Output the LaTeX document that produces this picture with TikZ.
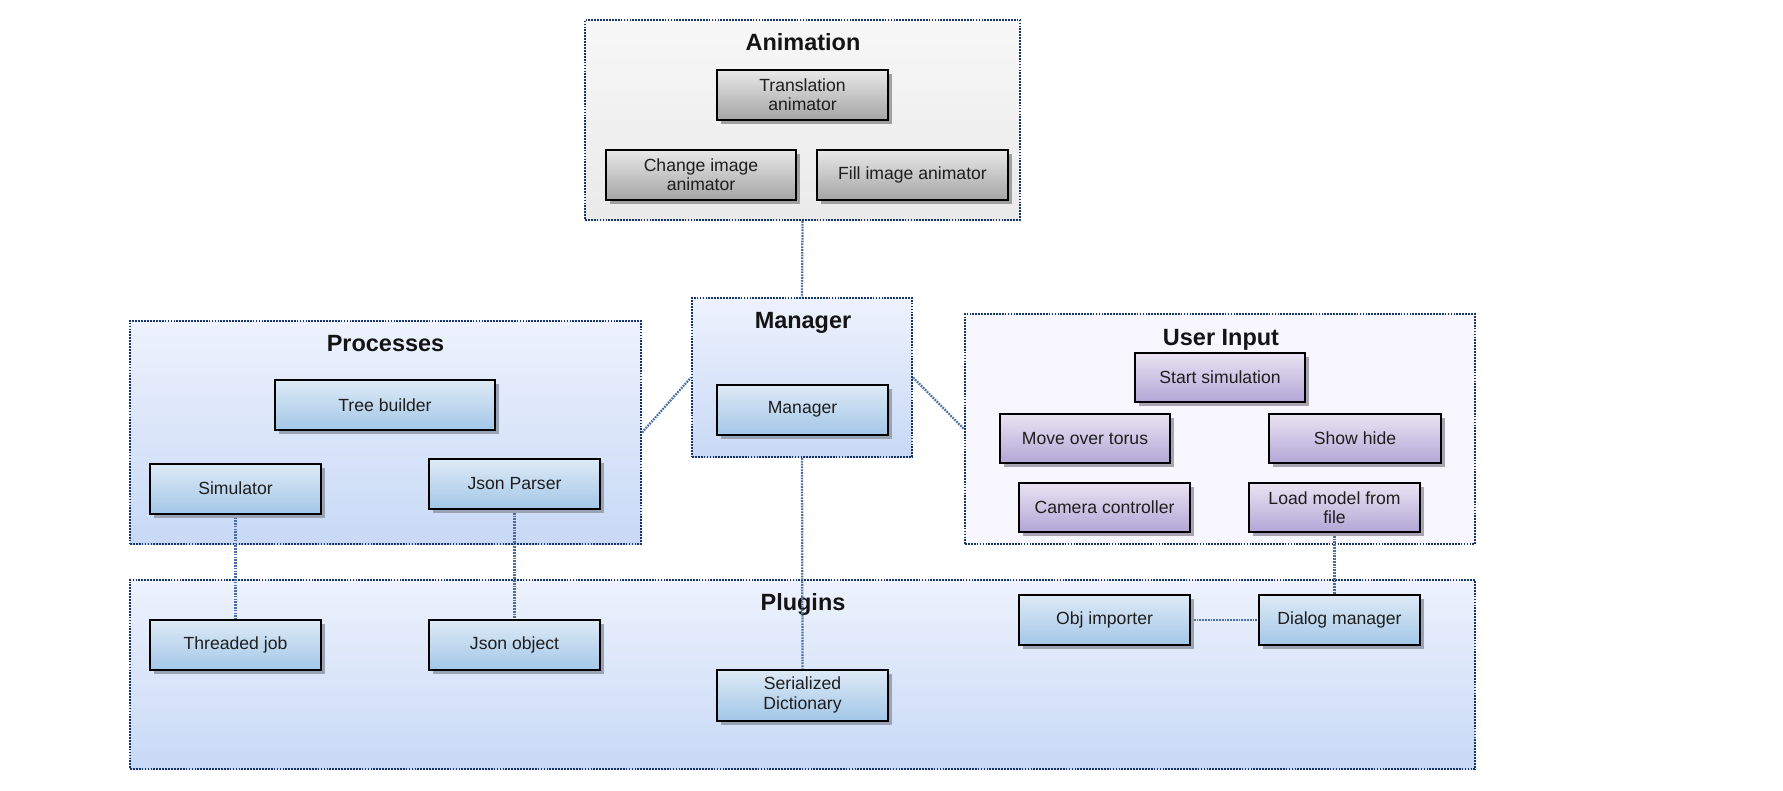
\documentclass[tikz,border=0pt]{standalone}
\usepackage{fontspec}
\setmainfont{Liberation Sans}
\usetikzlibrary{shadows}
\pgfdeclarelayer{bg}
\pgfdeclarelayer{conn}
\pgfsetlayers{bg,conn,main}
\definecolor{greyTop}{HTML}{E8E8E8}
\definecolor{greyBot}{HTML}{A4A4A4}
\definecolor{blueTop}{HTML}{DEEAF6}
\definecolor{blueBot}{HTML}{A3C7E8}
\definecolor{purpTop}{HTML}{E9E4F3}
\definecolor{purpBot}{HTML}{B2A6D6}
\definecolor{animTop}{HTML}{F7F7F7}
\definecolor{animBot}{HTML}{EAEAEA}
\definecolor{grpTop}{HTML}{EDF2FD}
\definecolor{grpBot}{HTML}{C8D9F6}
\definecolor{uiFill}{HTML}{F8F6FE}
\definecolor{grpLine}{HTML}{163468}
\definecolor{connLine}{HTML}{4A6EA3}
\definecolor{txt}{HTML}{1E1E1E}
\definecolor{shadowGrey}{HTML}{A0A0A0}
\definecolor{shadowBlue}{HTML}{9AA3B4}
\definecolor{shadowPurp}{HTML}{A8A4B2}
\tikzset{
  sz/.style 2 args={minimum width=#1*0.75pt, minimum height=#2*0.75pt},
  basebox/.style={draw=black, line width=1.5pt, inner sep=0pt, align=center,
    text=txt, font=\fontsize{13.2}{14.5}\selectfont, sz={171}{50}},
  greybox/.style={basebox, top color=greyTop, bottom color=greyBot,
    drop shadow={shadow xshift=3.3pt, shadow yshift=-3.3pt, opacity=1, fill=shadowGrey}},
  bluebox/.style={basebox, top color=blueTop, bottom color=blueBot,
    drop shadow={shadow xshift=3.3pt, shadow yshift=-3.3pt, opacity=1, fill=shadowBlue}},
  purpbox/.style={basebox, top color=purpTop, bottom color=purpBot,
    drop shadow={shadow xshift=3.3pt, shadow yshift=-3.3pt, opacity=1, fill=shadowPurp}},
  grp/.style={draw=grpLine, line width=1.6pt, dash pattern=on 1.3pt off 0.9pt, inner sep=0pt},
  grptitle/.style={anchor=base, text=black!92, font=\fontsize{17.6}{20}\selectfont\bfseries},
  conn/.style={draw=connLine, line width=1.7pt, dash pattern=on 1.3pt off 0.8pt}
}
\begin{document}
\begin{tikzpicture}[x=0.75pt,y=-0.75pt]
\useasboundingbox (0,0) rectangle (1783,790);
\begin{pgfonlayer}{bg}
  % groups
  \node[grp, sz={435}{200}, top color=animTop, bottom color=animBot] (anim) at (802.5,120) {};
  \node[grp, sz={220}{159}, top color=grpTop, bottom color=grpBot] (mgrgrp) at (802,377.5) {};
  \node[grp, sz={511}{223}, top color=grpTop, bottom color=grpBot] (proc) at (385.5,432.5) {};
  \node[grp, sz={510}{230}, fill=uiFill] (ui) at (1220,429) {};
  \node[grp, sz={1345}{189}, top color=grpTop, bottom color=grpBot] (plug) at (802.5,674.5) {};
  % titles
  \node[grptitle] (tanim) at (803,50) {Animation};
  \node[grptitle] (tmgr) at (803,328) {Manager};
  \node[grptitle] (tproc) at (385.5,351) {Processes};
  \node[grptitle] (tui) at (1221,345) {User Input};
  \node[grptitle] (tplug) at (803,610) {Plugins};
\end{pgfonlayer}

% Animation
\node[greybox] (trans) at (802.5,95) {Translation\\animator};
\node[greybox, sz={190}{50}] (change) at (701,175) {Change image\\animator};
\node[greybox, sz={191}{50}] (fill) at (912.5,175) {Fill image animator};

% Manager
\node[bluebox] (mgr) at (802.5,409.5) {Manager};

% Processes
\node[bluebox, sz={220}{50}] (tree) at (385,405) {Tree builder};
\node[bluebox] (sim) at (235.5,488.5) {Simulator};
\node[bluebox] (jp) at (514.5,484) {Json Parser};

% User Input
\node[purpbox, sz={170}{49}] (start) at (1220,377.5) {Start simulation};
\node[purpbox, sz={170}{49}] (move) at (1085,438.5) {Move over torus};
\node[purpbox, sz={172}{49}] (show) at (1355,438.5) {Show hide};
\node[purpbox, sz={171}{49}] (cam) at (1104.5,507) {Camera controller};
\node[purpbox, sz={171}{49}] (load) at (1334.5,507.5) {Load model from\\file};

% Plugins
\node[bluebox] (tj) at (235.5,645) {Threaded job};
\node[bluebox] (jo) at (514.5,645) {Json object};
\node[bluebox, sz={171}{51}] (sd) at (802.5,695) {Serialized\\Dictionary};
\node[bluebox, sz={171}{50}] (obj) at (1104.5,620) {Obj importer};
\node[bluebox, sz={161}{50}] (dlg) at (1339.5,620) {Dialog manager};

\begin{pgfonlayer}{conn}
  \draw[conn] (anim.south) -- (mgrgrp.north);
  \draw[conn] (mgrgrp.south) -- (sd.north);
  \draw[conn] (proc.east) -- (mgrgrp.west);
  \draw[conn] (mgrgrp.east) -- (ui.west);
  \draw[conn] (sim.south) -- (tj.north);
  \draw[conn] (jp.south) -- (jo.north);
  \draw[conn] (load.south) -- (load.south |- dlg.north);
  \draw[conn] (obj.east) -- (dlg.west);
\end{pgfonlayer}
\end{tikzpicture}
\end{document}
